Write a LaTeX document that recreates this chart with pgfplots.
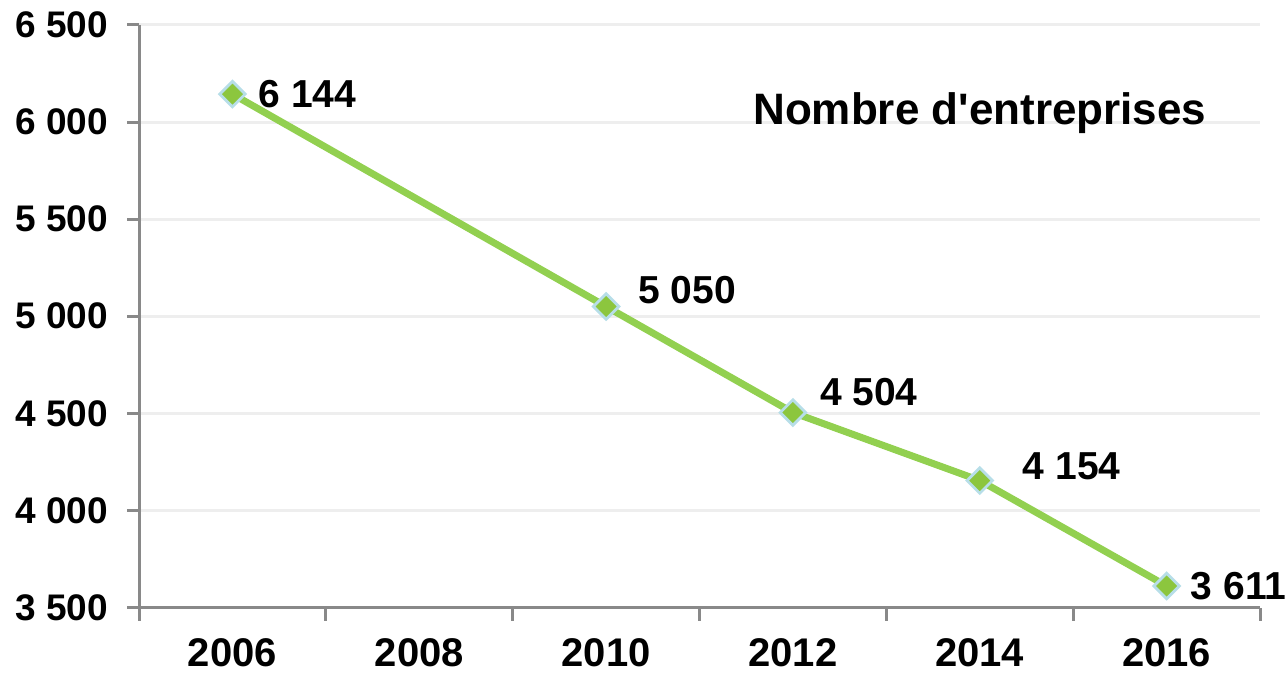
\documentclass[border=0pt]{standalone}
\usepackage{fontspec}
\setmainfont{Liberation Sans}
\usepackage{pgfplots}
\pgfplotsset{compat=1.18}
\definecolor{linegreen}{RGB}{146,208,80}
\definecolor{markgreen}{RGB}{140,198,62}
\definecolor{markblue}{RGB}{183,222,232}
\definecolor{axisgray}{RGB}{137,137,137}
\definecolor{gridgray}{RGB}{238,238,238}

\begin{document}
\begin{tikzpicture}
\begin{axis}[
    scale only axis,
    width=560.5pt, height=291.25pt,
    xmin=-0.5, xmax=5.5,
    ymin=3500, ymax=6500,
    ytick={3500,4000,...,6500},
    xtick={0,...,5},
    xticklabels={2006,2008,2010,2012,2014,2016},
    minor xtick={-0.5,0.5,...,5.5},
    axis x line*=bottom, axis y line*=left,
    axis line style={axisgray, line width=1.5pt},
    tick align=outside,
    major tick length=6pt, minor tick length=6.5pt,
    major x tick style={draw=none},
    minor x tick style={axisgray, line width=1.5pt},
    major y tick style={axisgray, line width=1.5pt},
    ymajorgrids,
    grid style={gridgray, line width=1.5pt},
    /pgf/number format/assume math mode=true,
    /pgf/number format/1000 sep={\ },
    yticklabel style={font=\fontsize{18.5}{21}\selectfont\bfseries, xshift=-6pt},
    xticklabel style={font=\fontsize{20}{23}\selectfont\bfseries, yshift=-6pt},
    clip=false,
]
\addplot[linegreen, line width=3.5pt, mark=square*, mark size=4.5pt,
    mark options={rotate=45, fill=markgreen, draw=markblue, line width=1.4pt}]
    coordinates {(0,6144) (2,5050) (3,4504) (4,4154) (5,3611)};
\begin{scope}[every node/.style={font=\fontsize{19.5}{22}\selectfont\bfseries, anchor=center, inner sep=0pt}]
\node[xshift=37.5pt] at (axis cs:0,6144) {6 144};
\node[xshift=40.5pt, yshift=8pt] at (axis cs:2,5050) {5 050};
\node[xshift=38pt, yshift=10pt] at (axis cs:3,4504) {4 504};
\node[xshift=46pt, yshift=7pt] at (axis cs:4,4154) {4 154};
\node[xshift=36pt] at (axis cs:5,3611) {3 611};
\end{scope}
\node[font=\fontsize{22}{25}\selectfont\bfseries, anchor=base] at (rel axis cs:0.75,0.83) {Nombre d\textquotesingle entreprises};
\end{axis}
\pgfresetboundingbox
\path (current axis.south west) ++(-69.5pt,-33.25pt) coordinate (bl);
\path (current axis.north east) ++(14pt,12.5pt) coordinate (tr);
\path (bl) rectangle (tr);
\end{tikzpicture}
\end{document}
